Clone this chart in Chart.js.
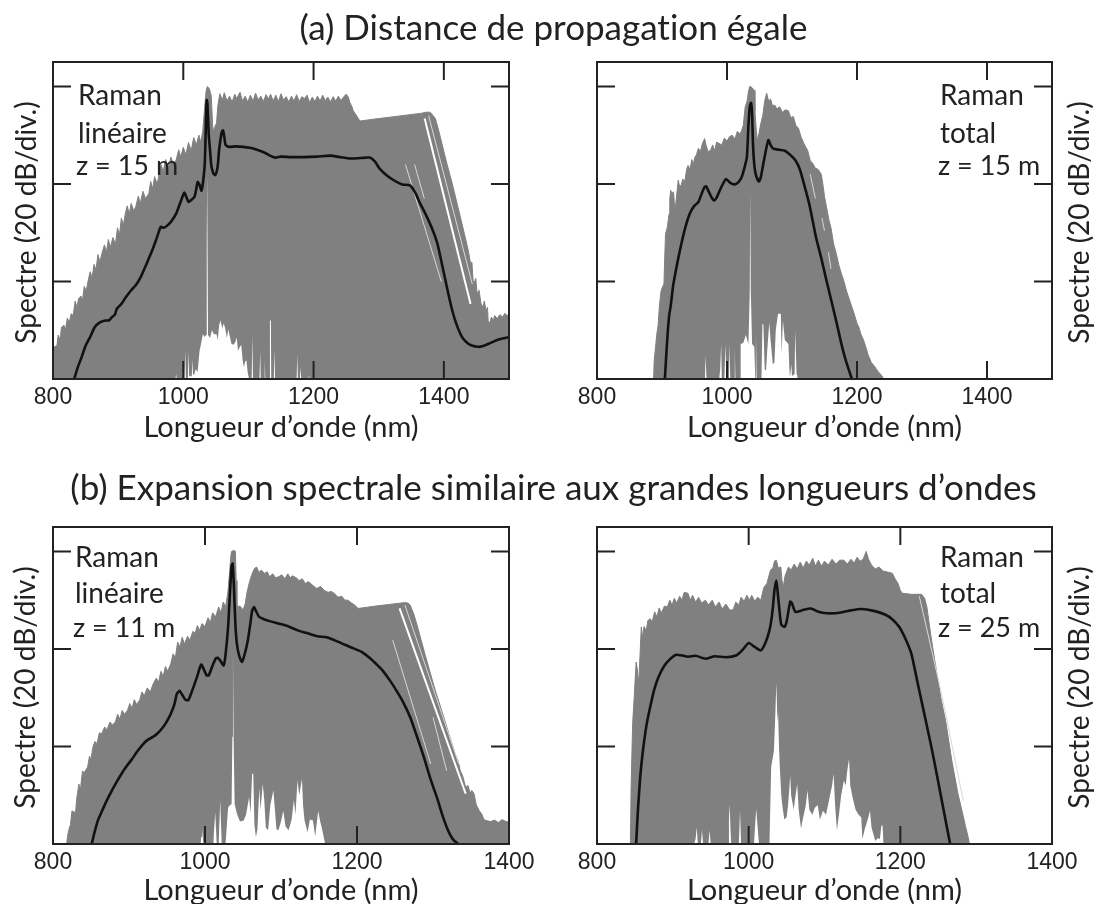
<!DOCTYPE html>
<html lang="fr">
<head>
<meta charset="utf-8">
<title>Spectres Raman</title>
<script src="https://cdn.jsdelivr.net/npm/chart.js@4"></script>
<style>
  html, body { margin: 0; padding: 0; background: #fff; overflow: hidden; }
  body { position: relative; width: 1094px; height: 904px; }
  canvas { position: absolute; filter: blur(.45px); }
  h2 { position: absolute; left: 0; width: 1107px; margin: 0; text-align: center; line-height: 40px;
       font-family: Lato, sans-serif; font-weight: 400; font-size: 35px; color: #222; white-space: nowrap;
       font-variant-ligatures: none; filter: blur(.35px); }
</style>
</head>
<body>
<h2 style="top:6px">(a) Distance de propagation égale</h2>
<h2 style="top:466px">(b) Expansion spectrale similaire aux grandes longueurs d’ondes</h2>
<canvas id="aLin" width="547" height="400" style="left:0;top:50px"></canvas>
<canvas id="aTot" width="547" height="400" style="left:547px;top:50px"></canvas>
<canvas id="bLin" width="547" height="394" style="left:0;top:510px"></canvas>
<canvas id="bTot" width="547" height="394" style="left:547px;top:510px"></canvas>
<script>
// textes
const xTitle = 'Longueur d’onde (nm)'
const yTitle = 'Spectre (20 dB/div.)'
const aLinNote = ['Raman', 'linéaire', 'z = 15 m']
const aTotNote = ['Raman', 'total', 'z = 15 m']
const bLinNote = ['Raman', 'linéaire', 'z = 11 m']
const bTotNote = ['Raman', 'total', 'z = 25 m']

// ticks
const aXMax = 1500
const bXMax = 1400
const xStep = 200
const yMax = 65
const yStep = 20

// (a) Raman lineaire : [nm, dB]
const aLinUpper = [[800,6.5],[806,6.8],[808,9],[811,8],[813,10.6],[817,11],[819,10],[822,12.5],[825,11.6],[828,13.4],[831,13],[834,16],[837,14.6],[839,16.4],[843,17],[845,15.8],[848,19],[851,18],[854,20.2],[857,22],[860,20.8],[863,23.5],[866,22.4],[869,25.5],[872,24],[875,25.7],[879,27.5],[882,26],[885,28.6],[888,27],[892,29],[896,27.7],[899,31],[902,29.5],[905,33],[908,31.5],[911,33.9],[914,35.5],[917,33.8],[920,36],[924,34.5],[927,35.3],[931,37.5],[934,36],[938,38.5],[942,37],[947,38],[950,40.5],[953,39],[956,41.5],[960,40],[963,42],[966,44],[969,42.5],[973,45],[977,43],[981,45.5],[985,44],[989,44.9],[993,47],[996,45.5],[1000,47.5],[1004,46],[1008,48.5],[1012,46.8],[1016,49.5],[1020,48],[1024,50],[1027,48.5],[1030,51],[1033,56],[1035,59],[1037,60],[1040,59.5],[1043,58],[1045,52],[1047,50.5],[1049,52],[1051,52.4],[1053,56],[1056,58.5],[1060,57.2],[1063,58.7],[1067,57],[1071,58],[1075,56.8],[1079,58.4],[1082,57.5],[1087,58.8],[1091,57],[1095,58],[1099,56.8],[1103,58.2],[1107,57],[1111,58.6],[1115,57.2],[1119,58],[1123,56.9],[1127,58.3],[1131,57.4],[1134,58.4],[1138,57],[1142,58.2],[1146,56.9],[1150,58.5],[1154,57.2],[1158,57.9],[1162,56.8],[1166,58],[1170,57],[1174,58.3],[1178,56.9],[1182,57.9],[1186,57.5],[1190,58.2],[1194,56.7],[1198,57.8],[1202,56.9],[1206,58],[1210,57],[1214,58.2],[1218,57.1],[1222,57.8],[1226,56.8],[1230,57.9],[1234,57],[1238,58],[1242,57.1],[1246,57.8],[1250,58.4],[1253,57.9],[1256,56.6],[1259,55.8],[1261,55],[1264,54.4],[1267,53.8],[1271,52.9],[1300,53.4],[1330,53.9],[1366,54.5],[1372,54.7],[1379,54.7],[1383,54.1],[1387,53.4],[1392,51],[1397,48.3],[1405,44],[1413,40],[1423,34.5],[1434,28.4],[1438,26],[1441,23.6],[1443,24],[1445,20],[1447,19.9],[1449,20.6],[1451,17.5],[1454,18.2],[1457,15.5],[1460,14.7],[1462,16],[1465,14],[1467,14.7],[1468,12],[1470,11.3],[1473,12.7],[1476,12],[1478,13],[1482,12.4],[1486,13.2],[1490,12.7],[1494,13.5],[1497,12.9],[1500,13.4]]
const aLinLower = [[986,0],[988,0],[989,1],[990,0],[1002,0],[1003,6],[1004,0],[1007,0],[1008,5.8],[1009,0.5],[1010,0.7],[1013,0.5],[1014,4],[1015,0.8],[1017,1],[1019,2],[1022,1.5],[1025,5.8],[1027,7],[1030,9.2],[1033,8.6],[1035,9],[1036,28],[1036.6,42],[1037.2,28],[1038,9],[1041,8.4],[1044,10],[1047,9.2],[1051,9.2],[1053,8],[1055,11],[1057,12],[1060,10.4],[1062,11.4],[1064,10.6],[1067,8.4],[1069,10.2],[1071,9],[1074,7.2],[1077,7],[1080,7.6],[1082,8.5],[1084,5.8],[1087,6.6],[1089,7],[1091,4],[1093,2.4],[1095,3.6],[1097,3.8],[1099,1.2],[1101,0],[1105,0],[1106,9],[1107,0],[1117,0],[1118,5.8],[1119,0],[1124,0],[1125,3.8],[1126,0],[1132,0],[1133,12],[1134.5,12],[1135,0],[1139,0],[1140,6],[1141,0],[1164,0],[1164.5,2.4],[1165,0],[1174,0],[1175,5],[1176,0],[1179,0],[1180,2.4],[1181,0],[1192,0],[1193,0.7],[1194,0]]
const aLinMean = [[832.6,0],[838,2.4],[844,4.5],[850,6.8],[857,8.6],[864,10.6],[872,11.6],[880,12],[886,12],[890.5,12.7],[895,13.2],[898,14.4],[905,15.4],[912,16.8],[920,18.2],[927,19.2],[935,21],[941,22.8],[947,24.7],[953,26.6],[960,29.2],[965.5,31.2],[970,31],[975.8,31.5],[982,32.4],[989,33.9],[995,36],[1001.6,38.2],[1005,37.2],[1008,36.3],[1013,36.8],[1017,37.3],[1020,39],[1022,40.4],[1025,39.8],[1028,38.6],[1030,40],[1033,44.2],[1035,54],[1036,57.2],[1037,56.5],[1039,50.3],[1041,47],[1043,43.8],[1046,42.2],[1049,41.8],[1051,42.4],[1053,43.8],[1055,47],[1057,49],[1059,50.6],[1061,51],[1063,49.6],[1065,48],[1070,47.6],[1080,47.7],[1092,47.6],[1102,47.4],[1113,47],[1125,46.4],[1133,45.8],[1141,45.4],[1150,45.6],[1165,45.5],[1185,45.5],[1205,45.6],[1226,45.8],[1240,45.5],[1257,45.2],[1272,45.3],[1286,45.4],[1294,44.6],[1301,43.2],[1312,41.8],[1325,40.6],[1336,39.9],[1348,39.7],[1356,38.2],[1363.5,36],[1372,33.8],[1382,30.8],[1390,27.8],[1397,23.6],[1405,18.6],[1413,14],[1420,11],[1428,8.6],[1436,7.4],[1444,6.8],[1452,6.6],[1459,6.7],[1470,7.3],[1480,7.9],[1490,8.3],[1500,8.6]]
const aLinGaps = [[[1370.5,53.4],[1441,15.4]]]
const aLinEdges = [[[1376.6,54],[1443.6,19.5]],[[1341,44],[1396,20]],[[1355,44],[1370,37]]]

// (a) Raman total
const aTotUpper = [[887,0],[888,3.8],[890,6.5],[892,9.2],[894,11],[896,15],[898.5,18],[900,18.6],[903,19.5],[904,24],[905.4,29.8],[908,31],[911,33.9],[912,37],[913.4,38.7],[915,38],[917.7,38.4],[919,36],[920,34.6],[922,37],[925,40.8],[927,39.5],[929.4,39.7],[932,41],[935,40.5],[938,43],[940,43.8],[943,43],[946,45],[948,44],[950.7,45.5],[953,46],[956,47.3],[959,46.6],[962,48.2],[965.6,49.3],[968,47.8],[971,46.6],[974.7,46.9],[978,48],[981,46.8],[984,48.6],[988,48.3],[992,48],[996,49.4],[1000,48.8],[1004,49.7],[1008,50],[1012,49.2],[1016,50.8],[1020,50.2],[1022.6,51],[1025,52],[1028,55.8],[1031,57],[1033,59],[1035,60],[1038,59.8],[1041.6,59.2],[1043,55],[1045,51],[1046.5,49],[1049,50.2],[1052,52.4],[1055,54],[1058,57],[1061,58.6],[1064,57],[1067,57.4],[1070,56],[1073,56.2],[1077,55.4],[1081,55.8],[1085,54.7],[1090,55.2],[1094.5,55],[1098,53.6],[1102,53.8],[1106,52],[1110,51.4],[1114,49.6],[1118,48.4],[1121,47.6],[1124,46.9],[1128,44.8],[1132,44.2],[1136,43.2],[1140,43],[1145,42],[1148,39.5],[1150,37.4],[1153,35.3],[1157,32.5],[1160,31],[1164,27.7],[1168,25.8],[1172,23.4],[1176,21.6],[1180,20],[1184,18],[1188,16.4],[1192,14.8],[1195.6,13.4],[1200,11.4],[1203,10.6],[1206,9.2],[1210,8],[1213,6.8],[1217,5],[1222,3.4],[1227,2.6],[1232,1.6],[1238,0.7],[1241,0]]
const aTotLower = [[966,0],[967,4.8],[968.5,0],[988,0],[989.5,2],[991,7.2],[992,0],[996,0],[997.6,7.2],[999,0],[1003,0],[1004,7.5],[1005,0],[1011,0],[1012,6.5],[1013,0],[1020,0],[1021,7.2],[1025,7.4],[1029,9],[1033,7.2],[1035,18],[1035.8,38.7],[1036.6,18],[1038.6,7.2],[1042,6.6],[1043.5,0],[1044.5,10],[1045.5,0],[1053,0],[1054.5,11.3],[1056,11.2],[1058,2],[1060,1.7],[1062,6],[1065,11.6],[1067,8],[1070.5,3],[1073,3.4],[1075,10],[1078.5,13.4],[1082.8,13.4],[1084,5],[1086,12],[1089,8],[1094.5,7.2],[1096,2],[1097,0.3],[1099,3],[1100,0.6],[1104,1],[1105,10],[1107,1],[1108,0.8],[1109,0]]
const aTotMean = [[904.4,0],[908,8],[911,13],[913.4,15],[917,19],[921.4,22.3],[926,25.4],[932,29],[937,31.6],[942.7,33.9],[949,35.4],[956,36.3],[961,38],[965.6,39.4],[968,39.5],[972,38.4],[976,37.3],[980,36.6],[984,37.2],[988,38.4],[993,39.8],[998.6,41],[1005,40.2],[1012,39.9],[1018,40.4],[1022.6,41.4],[1027,43.4],[1030.6,45.5],[1033,52],[1035,55.8],[1037,56.6],[1038.6,54.4],[1040,48],[1042.3,43.5],[1045,41.6],[1049,40.5],[1052,41.4],[1056,44.2],[1060,47],[1063.6,49],[1067,48],[1070.5,47.3],[1080,47],[1089,46.8],[1097,46],[1105,44.9],[1112,43],[1118.4,40],[1127,35.6],[1137,29],[1145,24.8],[1153,20.2],[1161,15.8],[1169,11.3],[1176,7.2],[1182.3,4],[1192,0]]
const aTotGaps = []
const aTotEdges = [[[1128,42],[1136,37]],[[1146,33],[1150,30.4]],[[1156,26],[1160,22.6]]]

// (b) Raman lineaire
const bLinUpper = [[818,0],[819,1.5],[820.5,2.7],[823,4],[825,6.8],[827,6.6],[829.7,6.5],[831,9],[834,12.3],[836,11],[838.8,15],[841,14.6],[845.6,15.8],[848,18],[850,17.4],[852.5,19.9],[855,21],[858,20.6],[861,22.8],[864,22.6],[868,24],[871,23.4],[875,25],[878,24.4],[882,25],[885,26.6],[888,25.6],[891,27.4],[894,26.6],[898,27.4],[901,28.8],[904,27.8],[907,29.6],[910,28.6],[914,29.5],[917,31.2],[920,30.4],[924,32],[928,31.2],[932,32.9],[936,34],[939,33.2],[942,35.4],[945,34.4],[948,36.4],[951,35.4],[955,37],[958,39],[961,38.2],[964,41.4],[967,40.4],[970,42.4],[973,41],[977,42.6],[980,41.8],[984,43.6],[987,43.2],[990,44.8],[993,43.8],[996,45.2],[1000,44.6],[1004,46.4],[1007,45.4],[1010,47.4],[1014,46.6],[1018,48.6],[1021,47.4],[1024,49.6],[1027,48.6],[1030,51.4],[1032,55],[1034,59],[1035,60],[1038,60.2],[1040,60],[1041,54],[1042,48.6],[1046,48.8],[1050,48],[1053,49.3],[1055,51.4],[1058,53.4],[1061,55],[1065,56.5],[1068,56.8],[1071,55.6],[1074,56.2],[1078,55.5],[1082,55.8],[1085,54.8],[1089,55.4],[1093,54.6],[1097,54.8],[1101,55.2],[1105,54.4],[1109,55.4],[1112,54.6],[1115,55],[1120,54.6],[1124,54],[1128,54.4],[1132,53.4],[1136,53.8],[1142,53],[1147,52.4],[1152,52.8],[1157,52],[1162,51.6],[1166,51.8],[1170,51.4],[1175,50.6],[1180,50.8],[1184,50],[1188,50],[1193,49.4],[1197,49],[1201.5,48.3],[1225,48.8],[1247,49.2],[1263,49.5],[1267,49.4],[1270,49],[1275,47],[1279,44.9],[1290,38.6],[1302,32],[1315,25.6],[1329,18.5],[1333,17],[1336,15],[1339,14],[1343,11.6],[1346,12],[1349,10.4],[1351,11],[1354,10.3],[1357,8],[1361,6.8],[1364,6.2],[1367,5],[1370,4.8],[1376,4.6],[1381,4.9],[1386,4.4],[1391,5],[1396,4.6],[1400,4.5]]
const bLinLower = [[994,0],[995,1.5],[996,3],[997.5,0.5],[998.5,0],[1011,0],[1012,3],[1013.5,6.5],[1014.5,3],[1015.4,0],[1018,0],[1020,8.9],[1021,8.9],[1022,0],[1027,0],[1030.4,7.5],[1033,8],[1035,8.2],[1036,22],[1036.8,39.7],[1037.6,22],[1039,8.2],[1042,6.2],[1046,4.6],[1051,4.8],[1054,6],[1058,9.6],[1060,6.4],[1062,14.4],[1063.5,14.4],[1065,4],[1067,1.4],[1069,3],[1071.5,11.6],[1073,7],[1076,12.3],[1078,9],[1080,3.4],[1083,2.8],[1086,8],[1090,11],[1092,7],[1094,3],[1096.6,2.8],[1100,4.6],[1103,6.8],[1106,3.6],[1110,2.8],[1114,5],[1117,9],[1119,6],[1121.7,13],[1124,10],[1127.6,13.4],[1129,8],[1131,4.8],[1135,2.4],[1138,5],[1142,4.8],[1145,1.6],[1149,6.8],[1151,5],[1153.6,3.4],[1156,1.6],[1158,0]]
const bLinMean = [[851,0],[854,2],[859,4.8],[864,6.6],[871,9],[877.6,11],[884,12.8],[891,14.6],[896,15.8],[903,17.2],[911,19],[918.6,20.5],[925,21.4],[931,21.9],[937,22.6],[945,24],[950,25.2],[955,26.7],[960,28.8],[963,30.8],[966.5,31.4],[970,30.6],[974,29.6],[978,29.5],[983,31.4],[989,34],[995,36.8],[999,35.6],[1002,34.6],[1005,34.6],[1010,36.6],[1014,38],[1016.7,38.2],[1021,37.4],[1024.5,36.6],[1027,38.8],[1030.4,44.5],[1033,52],[1035,57],[1036.4,57.5],[1038,53],[1040,45],[1042,41],[1045,38.6],[1048.7,37.3],[1052,38.8],[1056.4,41.8],[1060,45.6],[1062,47.8],[1064.6,48.6],[1067,47.8],[1071,46.6],[1076,46.2],[1085,45.7],[1096.6,45.2],[1110,44.6],[1122,43.8],[1133,43.3],[1148,42.6],[1160,42.4],[1170,41.8],[1185,40.8],[1197,40],[1206,39.4],[1218,38],[1226,36.8],[1233.5,35.6],[1243,33.6],[1251.7,31.5],[1261,29],[1270,26],[1279,22],[1288,17.8],[1297,13.2],[1306.5,8.9],[1313,5.6],[1320,2.7],[1326,1],[1333,0]]
const bLinGaps = [[[1256,48.3],[1343,10.3]]]
const bLinEdges = [[[1263,49],[1334,16.4]],[[1247,41.8],[1297,16.4]],[[1300,26],[1318,15]]]

// (b) Raman total
const bTotUpper = [[844,0],[845,12],[847,24.7],[849,30],[851.6,37.3],[853,36],[855,32.9],[856.5,38],[858.4,44.5],[860,42.4],[862,44.6],[865,43.8],[867,45.8],[870,46.2],[873,45.6],[876,47.6],[879,46.6],[882,48.4],[885,47.4],[889,48.8],[892.7,48.6],[896,50],[899,49],[902,50.4],[905,49.4],[909,50.8],[912,50],[915,51.6],[920,51.4],[923,50],[926,51],[930,49.6],[934,50.6],[938,49.4],[943,50],[947,49],[952,50],[956,48.6],[961,49.6],[965,48.2],[970,49.2],[975,48],[979.5,48],[983,49.6],[987,49],[990,50.6],[994,49.8],[997.7,51],[1001,50],[1004,51],[1008,49.8],[1012,50.6],[1016,50],[1020,52.6],[1024,53.4],[1028.8,56.2],[1032,56.6],[1034,58],[1036.5,58.2],[1039,56.6],[1042.4,56.8],[1044,54],[1045.6,52.7],[1048,55],[1052.5,56.8],[1056,56.2],[1060,57.4],[1064,56.4],[1068,57.8],[1072,56.6],[1076,58],[1080,57.2],[1084.5,58.6],[1088,57],[1092,58.2],[1096,57],[1100,58],[1105,57.2],[1110,58.4],[1115,57.4],[1120,58.2],[1125.6,58.2],[1130,57.4],[1135,58.4],[1139,57.6],[1143,58.8],[1147,58],[1151,58.4],[1155,60],[1158,58.4],[1162,57.2],[1167,56.4],[1172,56.8],[1177,56],[1182,55.8],[1189.5,55.5],[1193,54.4],[1197,53.4],[1200,52],[1203,51.4],[1215,51.2],[1228,51.2],[1232,50.4],[1235,48.6],[1240,43],[1245,38],[1253.4,30],[1260,25],[1268,17],[1276,10.3],[1281,7],[1286,3.6],[1290,1],[1291,0]]
const bTotLower = [[928,0],[930,1],[931.5,3.4],[933,0],[937,0],[938.4,2.8],[940,0],[947,0],[948.4,2.8],[950,0],[973,0],[974,5],[975,8.2],[976,3],[977,0],[987,0],[988.6,6.8],[990,0],[1007,0],[1009,5],[1010,7.2],[1012,3],[1013.7,0],[1027.4,0],[1029.7,15.8],[1031,17],[1033.3,19],[1035,26],[1036.5,33],[1038,25],[1038.8,27],[1040,20],[1041,16],[1043,10],[1044.3,8],[1047,5],[1050,5.5],[1052,8],[1054.8,14],[1056,10],[1059.4,7],[1061,9],[1064,12.3],[1066,7],[1069,3.2],[1072,5.6],[1075,7.6],[1077.6,11],[1080,7],[1084,6],[1087,7.4],[1091,8],[1094,5],[1098,6.8],[1102,6],[1106,9],[1110,12],[1112,14.4],[1114,8],[1116.4,2.8],[1119,6],[1122,10],[1125.6,13],[1128,12],[1130,15],[1132.4,17.5],[1134,12],[1137,9.6],[1141,7],[1145,6],[1148.4,5.5],[1150,1],[1153,3],[1157,5],[1160,6.8],[1162,3.4],[1167,0.6],[1170,1.2],[1173,1],[1175,3.8],[1176.5,3.8],[1178,0]]
const bTotMean = [[851.6,0],[854,7],[857,13.7],[860,18.4],[863,22],[866,25],[870,28],[875,31.4],[881,34.2],[889,36.6],[897,38],[904,38.8],[911,38.7],[920,38.4],[930,38.6],[943,38],[955,38.5],[970,38.3],[984,38.7],[992,39.8],[1000,41.2],[1008,40.4],[1016,39.7],[1022,41.2],[1027.4,43.8],[1030,46],[1032,48.6],[1034,52],[1036.5,54],[1038,52],[1041,47.3],[1043,45],[1047,44.5],[1050,45.6],[1054.8,49.7],[1057,49.4],[1061.6,47.6],[1070,47.9],[1082,48.3],[1092,47.6],[1102.7,47.3],[1120,47.4],[1135,47.9],[1148.4,48.2],[1165,47.8],[1180.4,47],[1190,46],[1198.6,44.5],[1207,42],[1214.6,39],[1222,33.6],[1230.6,27.4],[1240,20.6],[1248.8,13.7],[1257,7],[1265.7,0]]
const bTotGaps = []
const bTotEdges = [[[1225,50.8],[1253.4,31.5],[1283,8.9]]]

const pts = list => list.map(p => ({ x: p[0], y: p[1] }))

// dessine le cadre, les graduations vers l'interieur, le titre y et les notes
const framePlugin = {
    id: 'frame',
    afterDraw(chart, args, opt) {
        const { ctx, chartArea: a, scales: { x, y } } = chart
        const ink = '#222'
        ctx.save()
        ctx.strokeStyle = ink
        ctx.lineWidth = 2
        ctx.strokeRect(a.left, a.top, a.right - a.left, a.bottom - a.top)
        const tick = 18
        ctx.beginPath()
        x.ticks.filter(t => t.value > x.min && t.value < x.max).forEach(t => {
            const px = x.getPixelForValue(t.value)
            ctx.moveTo(px, a.top)
            ctx.lineTo(px, a.top + tick)
            ctx.moveTo(px, a.bottom)
            ctx.lineTo(px, a.bottom - tick)
        })
        y.ticks.filter(t => t.value > y.min && t.value < y.max).forEach(t => {
            const py = y.getPixelForValue(t.value)
            ctx.moveTo(a.left, py)
            ctx.lineTo(a.left + tick, py)
            ctx.moveTo(a.right, py)
            ctx.lineTo(a.right - tick, py)
        })
        ctx.stroke()

        ctx.fillStyle = ink
        ctx.textBaseline = 'alphabetic'
        ctx.textAlign = 'center'
        ctx.font = '28px Lato'
        ctx.translate(opt.yTitleX, (a.top + a.bottom) / 2 + 2)
        ctx.rotate(-Math.PI / 2)
        ctx.fillText(yTitle, 0, 0)
        ctx.restore()

        ctx.save()
        ctx.fillStyle = ink
        ctx.textAlign = 'left'
        opt.note.forEach((line, i) => {
            ctx.font = i === 2 ? '27px Lato' : '28px Lato'
            ctx.fillText(line, opt.noteX - (i === 2 ? 2 : 0), opt.noteY[i])
        })
        ctx.restore()
    }
}

function makePanel(id, cfg) {
    const sets = [
        { data: pts(cfg.upper), borderColor: '#808080', backgroundColor: '#808080', borderWidth: 1, fill: 'origin', tension: 0, order: 6 },
        { data: pts(cfg.lower), borderColor: 'rgba(0,0,0,0)', backgroundColor: '#fff', borderWidth: 0, fill: 'origin', tension: 0, order: 5 }
    ]
    cfg.gaps.forEach(g => sets.push({ data: pts(g), borderColor: '#fff', borderWidth: 2, fill: false, tension: 0, order: 4 }))
    cfg.edges.forEach(g => sets.push({ data: pts(g), borderColor: '#d8d8d8', borderWidth: 1, fill: false, tension: 0, order: 3 }))
    sets.push({ data: pts(cfg.mean), borderColor: '#111', borderWidth: 2.6, fill: false, tension: 0.2, order: 1 })

    return new Chart(document.getElementById(id), {
        type: 'line',
        data: { datasets: sets },
        plugins: [framePlugin],
        options: {
            responsive: false,
            animation: false,
            elements: { point: { radius: 0 } },
            layout: { padding: cfg.padding },
            plugins: {
                legend: { display: false },
                tooltip: { enabled: false },
                frame: { note: cfg.note, noteX: cfg.noteX, noteY: cfg.noteY, yTitleX: cfg.yTitleX }
            },
            scales: {
                x: {
                    type: 'linear',
                    min: 800,
                    max: cfg.xMax,
                    afterFit: s => { s.height = cfg.xHeight },
                    grid: { display: false, drawTicks: false },
                    border: { display: false },
                    ticks: { stepSize: xStep, includeBounds: false, maxRotation: 0, autoSkip: false, padding: 5,
                             callback: v => String(v),
                             color: '#222', font: { family: 'Liberation Sans', size: 23 } },
                    title: { display: true, text: xTitle, color: '#222',
                             font: { family: 'Lato', size: 29 }, padding: { top: 0, bottom: cfg.titleGap } }
                },
                y: {
                    min: 0,
                    max: yMax,
                    display: false,
                    ticks: { stepSize: yStep }
                }
            }
        }
    })
}

makePanel('aLin', { upper: aLinUpper, lower: aLinLower, mean: aLinMean, gaps: aLinGaps, edges: aLinEdges, note: aLinNote, xMax: aXMax,
    padding: { left: 53, right: 38, top: 12, bottom: 0 }, xHeight: 71, titleGap: 5, noteX: 78, noteY: [55, 93, 125], yTitleX: 36 })
makePanel('aTot', { upper: aTotUpper, lower: aTotLower, mean: aTotMean, gaps: aTotGaps, edges: aTotEdges, note: aTotNote, xMax: aXMax,
    padding: { left: 50, right: 42, top: 12, bottom: 0 }, xHeight: 71, titleGap: 5, noteX: 393, noteY: [55, 93, 125], yTitleX: 542 })
makePanel('bLin', { upper: bLinUpper, lower: bLinLower, mean: bLinMean, gaps: bLinGaps, edges: bLinEdges, note: bLinNote, xMax: bXMax,
    padding: { left: 53, right: 38, top: 17, bottom: 0 }, xHeight: 60, titleGap: -4, noteX: 75, noteY: [57, 93, 127], yTitleX: 35 })
makePanel('bTot', { upper: bTotUpper, lower: bTotLower, mean: bTotMean, gaps: bTotGaps, edges: bTotEdges, note: bTotNote, xMax: bXMax,
    padding: { left: 50, right: 42, top: 17, bottom: 0 }, xHeight: 60, titleGap: -4, noteX: 393, noteY: [57, 93, 127], yTitleX: 542 })
</script>
</body>
</html>
